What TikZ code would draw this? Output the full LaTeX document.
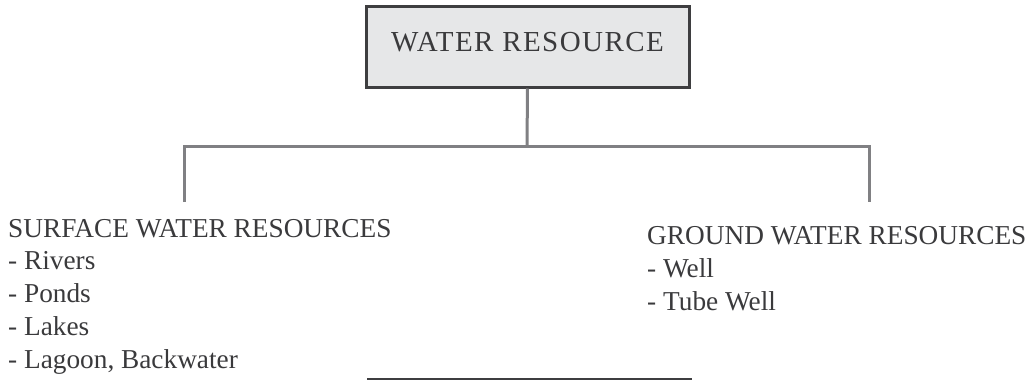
\documentclass[tikz,border=0pt]{standalone}
\usepackage{fontspec}
\setmainfont{Liberation Serif}
\newfontfamily\titlefont[LetterSpace=5]{Liberation Serif}
\definecolor{boxfill}{HTML}{E6E7E8}
\definecolor{boxline}{HTML}{3E3E40}
\definecolor{linkgray}{HTML}{808083}
\definecolor{txt}{HTML}{3A3A3C}
\begin{document}
\begin{tikzpicture}[x=1pt,y=-1pt,
  every node/.style={text=txt,inner sep=0pt},
  titlebox/.style={draw=boxline,fill=boxfill,line width=3pt,minimum width=323pt,minimum height=81pt,
    text depth=10pt,font=\titlefont\fontsize{29}{32}\selectfont},
  link/.style={draw=linkgray,line width=3pt},
  listbox/.style={align=left,anchor=base west,font=\fontsize{27.3}{32.75}\selectfont}]
\useasboundingbox (0,0) rectangle (1035,380);

\node[titlebox] (root) at (527.5,46.5) {WATER RESOURCE};

% the two lists; each node is placed by the baseline of its last line
\node[listbox] (surface) at (8,368) {SURFACE WATER RESOURCES\\- Rivers\\- Ponds\\- Lakes\\- Lagoon, Backwater};
\node[listbox] (ground) at (647,310) {GROUND WATER RESOURCES\\- Well\\- Tube Well};

% branching connector
\coordinate (hub) at (527,146);
\coordinate (lcorner) at (184,146);
\coordinate (rcorner) at (869,146);
\coordinate (lend) at (184,202);
\coordinate (rend) at (869,202);
\draw[link] (root.south) -- (hub);
\draw[link] (lend) -- (lcorner) -- (rcorner) -- (rend);

% rule under the chart
\coordinate (ruleL) at (367,378.5);
\coordinate (ruleR) at (692,378.5);
\draw[draw=boxline,line width=2pt] (ruleL) -- (ruleR);
\end{tikzpicture}
\end{document}
